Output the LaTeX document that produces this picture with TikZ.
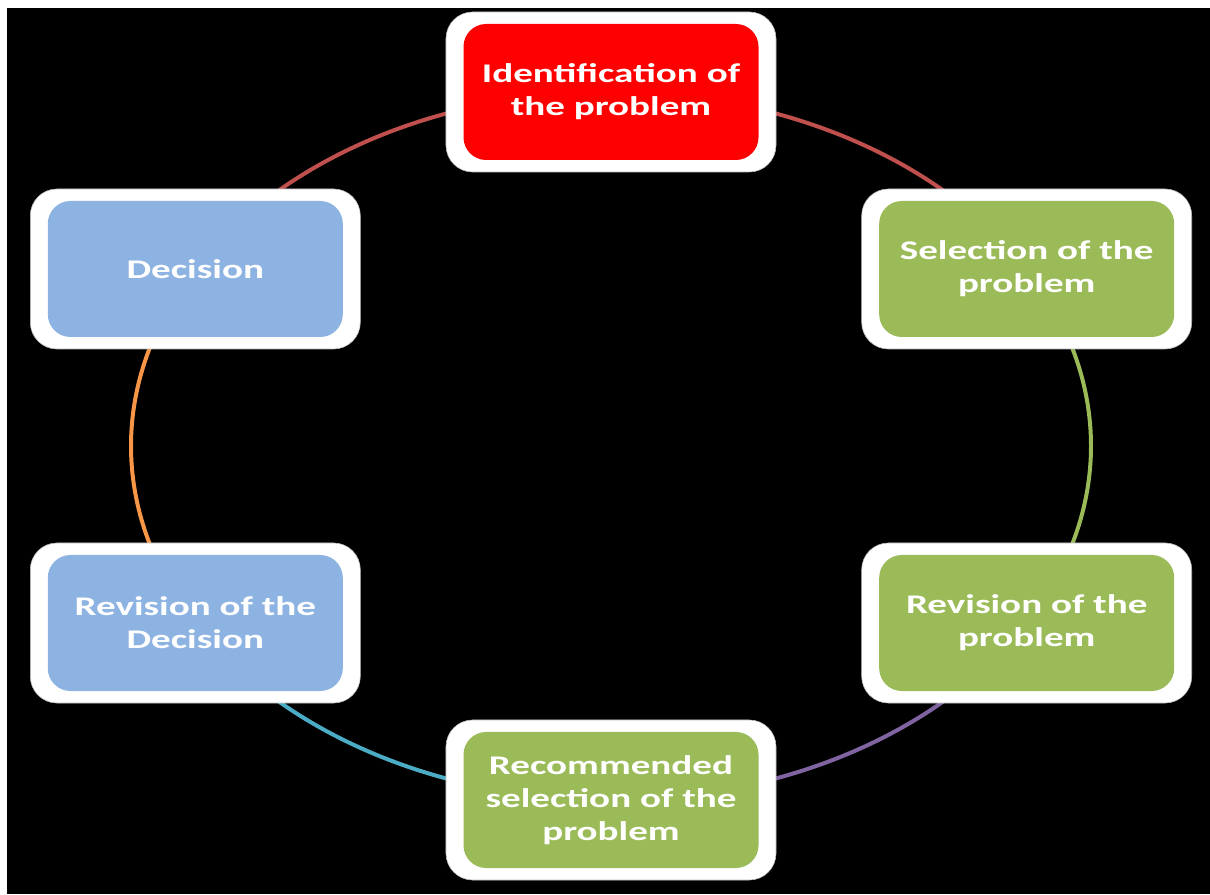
\documentclass[tikz,border=0pt]{standalone}
\usepackage{fontspec}
\newfontfamily\cardfont{Carlito}[FakeStretch=1.45]
\usetikzlibrary{backgrounds}
\definecolor{cardred}{HTML}{FF0000}
\definecolor{cardgreen}{HTML}{9BBB59}
\definecolor{cardblue}{HTML}{8DB3E2}
\definecolor{linkred}{HTML}{C0504D}
\definecolor{linkgreen}{HTML}{9BBB59}
\definecolor{linkpurple}{HTML}{8064A2}
\definecolor{linkteal}{HTML}{4BACC6}
\definecolor{linkorange}{HTML}{F79646}
\tikzset{
  frame/.style={rectangle, rounded corners=0.8cm, minimum width=9.9cm,
    minimum height=4.8cm, inner sep=0pt, fill=white, draw=gray!55, line width=0.5pt},
  card/.style={rectangle, rounded corners=0.68cm, minimum width=8.85cm,
    minimum height=4.08cm, inner sep=0pt, text=white, align=center,
    font=\cardfont\bfseries\fontsize{23}{28}\selectfont},
  link/.style={line width=3.4pt},
}
\begin{document}
\begin{tikzpicture}[x=0.03cm, y=0.03cm]
\useasboundingbox (0,0) rectangle (1210,894);
\begin{scope}[on background layer]
  \fill[white] (0,0) rectangle (1210,894);
  \fill[black] (7,0) rectangle (1210,886);
\end{scope}
% six stages placed on an ellipse around the centre of the cycle
\begin{scope}[shift={(611,448)}]
  \node[frame] (f1) at (90:480 and 354) {};
  \node[card, fill=cardred] (n1) at (f1) {Identification of\\the problem};
  \node[frame] (f2) at (30:480 and 354) {};
  \node[card, fill=cardgreen] (n2) at (f2) {Selection of the\\problem};
  \node[frame] (f3) at (-30:480 and 354) {};
  \node[card, fill=cardgreen] (n3) at (f3) {Revision of the\\problem};
  \node[frame] (f4) at (-90:480 and 354) {};
  \node[card, fill=cardgreen] (n4) at (f4) {Recommended\\selection of the\\problem};
  \node[frame] (f5) at (-150:480 and 354) {};
  \node[card, fill=cardblue] (n5) at (f5) {Revision of the\\Decision};
  \node[frame] (f6) at (150:480 and 354) {};
  \node[card, fill=cardblue] (n6) at (f6) {Decision};
\end{scope}
% elliptical connectors, drawn beneath the stage boxes
\begin{scope}[on background layer]
  \draw[link, linkred]    (n1.center) arc[start angle=90,   end angle=30,   x radius=480, y radius=354];
  \draw[link, linkgreen]  (n2.center) arc[start angle=30,   end angle=-30,  x radius=480, y radius=354];
  \draw[link, linkpurple] (n3.center) arc[start angle=-30,  end angle=-90,  x radius=480, y radius=354];
  \draw[link, linkteal]   (n4.center) arc[start angle=-90,  end angle=-150, x radius=480, y radius=354];
  \draw[link, linkorange] (n5.center) arc[start angle=-150, end angle=-210, x radius=480, y radius=354];
  \draw[link, linkred]    (n6.center) arc[start angle=150,  end angle=90,   x radius=480, y radius=354];
\end{scope}
\end{tikzpicture}
\end{document}
